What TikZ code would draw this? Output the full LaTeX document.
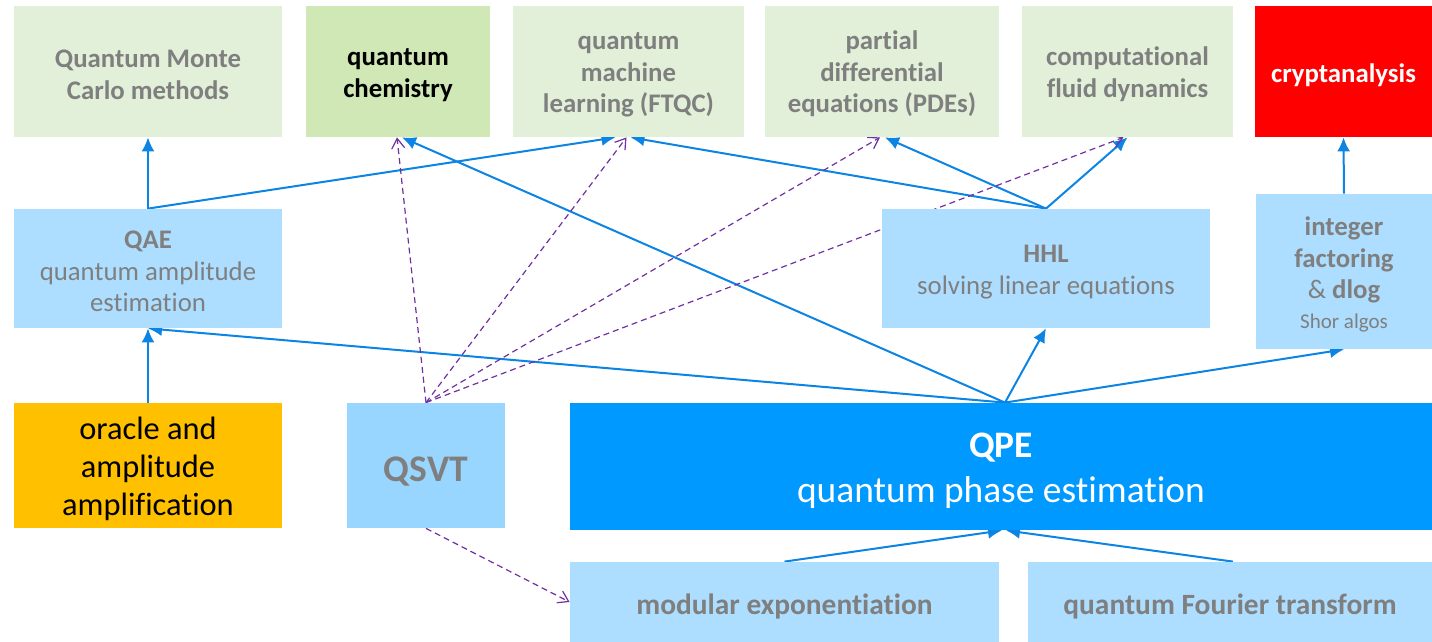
\documentclass[tikz,border=0pt]{standalone}
\usepackage{fontspec}
\setmainfont[Ligatures=NoCommon]{Carlito}
\usetikzlibrary{arrows.meta,backgrounds}
\definecolor{lgreen}{HTML}{E2F0D9}
\definecolor{mgreen}{HTML}{CFE8B5}
\definecolor{lblue}{HTML}{ADDEFF}
\definecolor{qsvtblue}{HTML}{99D6FF}
\definecolor{qpeblue}{HTML}{0099FF}
\definecolor{txtgray}{HTML}{7F7F7F}
\definecolor{arrblue}{HTML}{0B84E3}
\definecolor{dpurple}{HTML}{7030A0}
\definecolor{orc}{HTML}{FFC000}
\definecolor{cred}{HTML}{FF0000}
\newcommand{\ups}{\rule{0pt}{0.9em}}
\tikzset{
  box/.style={inner sep=0pt, align=center, font=\fontsize{13.4}{15.75}\selectfont\bfseries, text=txtgray,
    execute at begin node={\rule{0pt}{0.98em}}},
  gbox/.style={box, fill=lgreen},
  bbox/.style={box, fill=lblue},
  conn/.style={draw=arrblue, line width=1pt, -{Latex[length=7pt,width=6.5pt]}},
  dconn/.style={draw=dpurple, line width=0.6pt, dash pattern=on 3pt off 2pt, -{Straight Barb[length=5pt,width=6.5pt]}}
}
\begin{document}
\begin{tikzpicture}[x=0.5pt,y=-0.5pt]
\useasboundingbox (0,0) rectangle (1432,642);
% top row
\node[gbox, minimum width=134pt, minimum height=65.5pt] (qmc) at (148,71.5) {\ups Quantum Monte\\Carlo methods};
\node[box, fill=mgreen, text=black, minimum width=92pt, minimum height=65.5pt] (chem) at (398,71.5) {\ups quantum\\chemistry};
\node[gbox, minimum width=115.5pt, minimum height=65.5pt] (qml) at (628.5,71.5) {\ups quantum\\machine\\learning (FTQC)};
\node[gbox, minimum width=117pt, minimum height=65.5pt] (pde) at (882,71.5) {\ups partial\\differential\\equations (PDEs)};
\node[gbox, minimum width=105.5pt, minimum height=65.5pt] (cfd) at (1127.5,71.5) {\ups computational\\fluid dynamics};
\node[box, fill=cred, text=white, minimum width=88.5pt, minimum height=65.5pt] (crypt) at (1343.5,71.5) {cryptanalysis};
% second row
\node[bbox, minimum width=134pt, minimum height=59.5pt] (qae) at (148,268.5) {\ups QAE\\\mdseries quantum amplitude\\\mdseries estimation};
\node[bbox, minimum width=164pt, minimum height=59.5pt] (hhl) at (1046,268.5) {\ups HHL\\\mdseries solving linear equations};
\node[bbox, minimum width=88pt, minimum height=77.5pt] (intf) at (1344,271.5) {\ups integer\\factoring\\{\mdseries\&} dlog\\[-1pt]{\mdseries\fontsize{10.5}{12}\selectfont Shor algos}};
% third row
\node[box, fill=orc, text=black, font=\fontsize{16.2}{19}\selectfont, minimum width=134pt, minimum height=62.5pt] (orac) at (148,465.5) {\ups oracle and\\amplitude\\amplification};
\node[box, fill=qsvtblue, font=\fontsize{18.8}{22}\selectfont\bfseries, minimum width=79pt, minimum height=62.5pt] (qsvt) at (426,465.5) {QSVT};
\node[box, fill=qpeblue, text=white, font=\fontsize{18.7}{22.5}\selectfont, minimum width=431pt, minimum height=63.5pt] (qpe) at (1001,466.5) {\ups\bfseries QPE\\quantum phase estimation};
% bottom row
\node[bbox, font=\fontsize{14.7}{17}\selectfont\bfseries, minimum width=214.5pt, minimum height=40pt] (modexp) at (784.5,602) {modular exponentiation};
\node[bbox, font=\fontsize{14.7}{17}\selectfont\bfseries, minimum width=202pt, minimum height=40pt] (qft) at (1230,602) {quantum Fourier transform};
% connectors
\begin{scope}[on background layer]
\draw[conn] (qae.north) -- (qmc.south);
\draw[conn] (qae.north) -- ([xshift=-6.5pt]qml.south);
\draw[conn] (hhl.north) -- ([xshift=1pt]qml.south);
\draw[conn] (hhl.north) -- ([xshift=1.5pt]pde.south);
\draw[conn] (hhl.north) -- (cfd.south);
\draw[conn] (intf.north) -- (crypt.south);
\draw[conn] (orac.north) -- (qae.south);
\draw[conn] ([xshift=2pt]qpe.north) -- (qae.south);
\draw[conn] ([xshift=2pt]qpe.north) -- ([xshift=2pt]chem.south);
\draw[conn] ([xshift=2pt]qpe.north) -- (hhl.south);
\draw[conn] ([xshift=2pt]qpe.north) -- (intf.south);
\draw[conn] (modexp.north) -- ([xshift=0.5pt]qpe.south);
\draw[conn] ([xshift=1.5pt]qft.north) -- ([xshift=2.5pt]qpe.south);
\draw[dconn] (qsvt.north) -- ([xshift=-0.5pt]chem.south);
\draw[dconn] (qsvt.north) -- ([xshift=-1pt]qml.south);
\draw[dconn] (qsvt.north) -- ([xshift=-1pt]pde.south);
\draw[dconn] (qsvt.north) -- ([xshift=-2pt]cfd.south);
\draw[dconn] (qsvt.south) -- (modexp.west);
\end{scope}
\end{tikzpicture}
\end{document}
